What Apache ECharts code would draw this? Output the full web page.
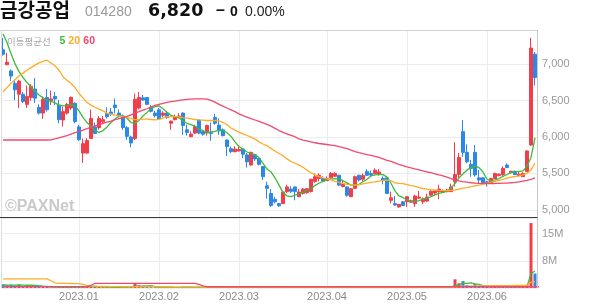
<!DOCTYPE html>
<html><head><meta charset="utf-8">
<script src="https://cdn.jsdelivr.net/npm/echarts@6.0.0/dist/echarts.min.js"></script>
<style>html,body{margin:0;padding:0;background:#fff}#c{width:594px;height:304px}</style>
</head><body><div id="c"></div>
<script>
// ---- trading days (KRX), 2022-12-05 .. 2023-06-20 ----
const startDate = '2022-12-05', endDate = '2023-06-20';
const holidays = ['2022-12-30','2023-01-23','2023-01-24','2023-03-01','2023-05-01','2023-05-05','2023-05-29','2023-06-06'];
const dates = [];
for (let d = new Date(startDate + 'T00:00:00Z'); d <= new Date(endDate + 'T00:00:00Z'); d.setUTCDate(d.getUTCDate() + 1)) {
  const s = d.toISOString().slice(0, 10), wd = d.getUTCDay();
  if (wd !== 0 && wd !== 6 && holidays.indexOf(s) < 0) dates.push(s);
}
// ---- prices (KRW) ----
const open = [7200,6995,6910,6740,6590,6590,6450,6545,6660,6410, 6330,6545,6500,6560,6440,6235,6330,6400,6465,6140, 5780,5780,5980,6140,6130,6210,6325,6345,6440,6330, 6290,6130,6000,5980,6400,6540,6545,6410,6330,6375, 6300,6330,6190,6240,6270,6330,6100,6005,6055,6235, 6075,6055,6060,6270,6165,6100,5960,5840,5800,5810, 5835,5755,5615,5755,5705,5595,5330,5225,5145,5085, 5085,5250,5285,5315,5180,5225,5235,5250,5390,5430, 5430,5400,5440,5460,5475,5320,5315,5180,5295,5475, 5420,5525,5500,5500,5490,5430,5440,5130,5085,5040, 5110,5110,5105,5085,5160,5110,5120,5200,5230,5250, 5240,5250,5250,5385,5485,6075,5790,5625,5790,5440, 5440,5385,5365,5430,5470,5485,5615,5510,5530,5470, 5455,5525,5890,7140];
const close = [7140,7030,6840,6650,6770,6490,6560,6700,6535,6330, 6520,6375,6525,6525,6240,6350,6450,6545,6215,5965, 5910,5955,6255,6050,6255,6240,6280,6325,6405,6290, 6130,6010,5920,6520,6545,6510,6450,6355,6295,6250, 6330,6270,6220,6280,6290,6160,6065,6040,6145,6055, 6040,6160,6050,6190,6085,6020,5870,5800,5835,5830, 5765,5660,5790,5700,5625,5455,5295,5060,5110,5055, 5245,5315,5255,5250,5245,5285,5290,5420,5455,5475, 5395,5430,5500,5500,5340,5350,5200,5290,5455,5410, 5470,5475,5480,5545,5520,5400,5225,5165,5065,5075, 5060,5180,5125,5190,5175,5150,5175,5255,5260,5285, 5265,5270,5315,5485,5720,5790,5660,5570,5480,5410, 5375,5365,5430,5500,5490,5570,5580,5530,5485,5490, 5500,5810,7225,6820];
const high = [7365,7156,6930,6790,6790,6620,6710,6730,6810,6450, 6560,6660,6640,6620,6510,6420,6470,6560,6480,6170, 5980,5985,6380,6200,6290,6290,6410,6400,6530,6380, 6310,6150,6020,6600,6620,6580,6550,6440,6360,6400, 6360,6360,6225,6310,6330,6340,6170,6080,6170,6240, 6100,6170,6200,6320,6260,6120,5965,5870,5875,5870, 5840,5780,5800,5770,5720,5600,5385,5285,5180,5095, 5250,5345,5325,5320,5290,5300,5300,5425,5500,5500, 5460,5460,5520,5515,5480,5400,5320,5300,5470,5480, 5500,5560,5540,5570,5560,5460,5460,5250,5190,5080, 5120,5185,5140,5205,5260,5170,5220,5270,5260,5345, 5280,5290,5360,5930,5780,6235,5900,5685,5890,5545, 5445,5400,5440,5510,5500,5600,5640,5540,5540,5520, 5515,5815,7365,7170];
const low = [7120,6990,6770,6510,6400,6470,6400,6500,6470,6310, 6250,6350,6440,6440,6190,6145,6310,6370,6190,5950, 5645,5775,5975,6040,6100,6180,6255,6290,6325,6270, 6100,5960,5860,5960,6380,6500,6440,6340,6270,6240, 6270,6250,6100,6230,6260,6030,6020,6000,6040,6040, 6020,6020,5950,6170,6030,6010,5740,5780,5790,5800, 5710,5580,5610,5670,5610,5410,5155,5040,5090,5040, 5080,5230,5230,5130,5175,5210,5220,5240,5370,5390, 5385,5395,5435,5455,5330,5310,5180,5175,5290,5390, 5390,5465,5450,5480,5470,5350,5220,5090,5060,5030, 5055,5040,5100,5040,5150,5080,5110,5200,5200,5145, 5230,5240,5245,5320,5440,5730,5640,5455,5455,5360, 5370,5320,5360,5425,5460,5455,5575,5500,5480,5460, 5450,5520,5880,6710];
// ---- moving averages as drawn ----
const ma5 = [7420,7300,7150,7010,6900,6820,6750,6690,6630,6580, 6540,6510,6490,6470,6440,6430,6434,6450,6430,6360, 6270,6200,6150,6090,6065,6090,6140,6200,6250,6290, 6290,6260,6200,6190,6230,6290,6340,6390,6420,6430, 6390,6340,6300,6280,6265,6220,6190,6170,6150,6110, 6090,6066,6070,6080,6095,6095,6060,6010,5935,5870, 5835,5795,5775,5760,5715,5640,5560,5520,5440,5340, 5240,5190,5180,5200,5220,5240,5265,5290,5335,5365, 5390,5410,5422,5430,5425,5400,5370,5340,5340,5350, 5385,5420,5465,5480,5486,5484,5450,5365,5260,5190, 5170,5135,5120,5117,5125,5145,5160,5180,5205,5225, 5240,5260,5300,5360,5440,5495,5545,5580,5605,5580, 5520,5420,5400,5410,5430,5460,5485,5515,5525,5525, 5535,5600,5720,5990];
const ma20 = [6620,6680,6740,6790,6840,6880,6920,6955,6990,7020, 7040,7058,7020,6980,6920,6830,6780,6740,6680,6600, 6540,6475,6440,6410,6385,6360,6330,6315,6302,6292, 6282,6270,6255,6240,6240,6248,6248,6242,6238,6245, 6262,6280,6282,6282,6278,6268,6260,6252,6242,6236, 6232,6228,6228,6230,6225,6200,6170,6125,6095,6068, 6045,6022,6000,5972,5935,5905,5880,5845,5805,5775, 5745,5700,5665,5640,5615,5585,5545,5510,5480,5455, 5440,5425,5410,5390,5376,5362,5350,5343,5340,5345, 5356,5368,5378,5385,5395,5405,5408,5400,5370,5362, 5360,5345,5332,5322,5305,5293,5285,5278,5272,5268, 5265,5265,5268,5270,5285,5298,5305,5318,5330,5340, 5352,5365,5380,5392,5405,5420,5435,5448,5458,5468, 5480,5500,5550,5640];
const ma60 = [5960,5960,5960,5960,5960,5960,5960,5960,5960,5960, 5960,5960,5962,5975,5990,6005,6020,6040,6060,6075, 6095,6115,6135,6155,6170,6190,6205,6220,6240,6255, 6270,6285,6305,6330,6350,6370,6390,6415,6435,6450, 6465,6478,6488,6496,6505,6512,6518,6522,6525,6525, 6525,6522,6505,6480,6450,6425,6400,6375,6350,6320, 6295,6275,6255,6235,6215,6195,6175,6150,6120,6090, 6065,6045,6025,6005,5975,5958,5948,5935,5922,5912, 5905,5898,5890,5882,5868,5855,5840,5820,5800,5785, 5772,5760,5748,5735,5720,5700,5680,5665,5645,5625, 5606,5590,5575,5562,5550,5535,5520,5510,5495,5480, 5468,5450,5430,5410,5398,5388,5380,5372,5368,5364, 5362,5362,5362,5362,5364,5366,5368,5372,5378,5385, 5395,5405,5420,5438];
// ---- volume (thousand shares) ----
const volK = [1000,750,900,700,950,600,700,800,650, 300,350,280,200,180,320,260,240,300,350, 400,450,380,600,300,260,200,220,180,260,200,280,320,350, 1200,700, 300,250,220,200,240,180,200,220,150,160,300,200,180,220,250,180,200,260,220,250,200,350,200,160, 150,220,300,260,180,200,350,400,450,250,220,300,260,200,220,180,200,170,300,260,220,180, 160,200,180,240,200,260,220,300,220,200,230,200,240,210,220,300,280,250,200,210, 220,180,260,200,180,200,220,190,260,180,170,260, 2400,1300,1900,800,600,1100,500,400, 300,350,400,300,450,350,300,280,250,300,900, 17900,4000];
const vol5K = [850,830,820,800,840,780,760,780,740, 620,520,430,340,260,270,260,250,270,290, 320,350,380,430,420,400,340,260,230,210,210,230,250,290, 500,530,560,590,620,350,240,230, 210,200,190,190,210,200,210,230,230,220,210,220,230,240,230,250,240,230, 220,200,200,230,230,230,260,300,330,350,330,290,260,250,240,220,210,200,210,220,230,230, 220,210,200,190,200,210,220,240,240,240,240,230,220,220,230,240,250,260,250,240, 230,220,210,210,210,200,200,210,210,210,210,220, 650,900,1280,1300,1400,1140,980,680, 560,460,400,360,360,370,360,340,330,310,420, 3950,4690];
const vol20K = [2500,2500,2500,2500,2500,2500,2500,2500,2500,2500,2500,2500, 2000,1400,1300,1280,1260,1240,1220,1200, 1000,750,550,480,460,440,420,400,380,360,350,340,330, 380,400,410,420,420,400,330,300,280,270,260,250,250,240,240,230,230,230,220,220, 240,240,240,240,240,240,240,240,240,240,240,240,240,240,240,240,240,240,240,240,240,240,240,240, 240,240,240,240,240,240,240,240,240,240,240,240,240,240,240,240,240,240,240,240,240,240,240,240, 220,220,220,220,220,220,220,220,220,220,220,220, 330,390,480,510,530,580,600,610, 620,630,640,650,660,670,680,690,700,710,740, 1600,1780];
const vol60K = [400,400,400,400,400,400,400,400,400,400,400,400,400,400,400,400,400,400,400,400,400,400,700, 1300,1300,1300,1300,1300,1300,1300,1300,1300,1300,1300,1300,1300,1300,1300,1300,1300,1300,1300,1300,1300,1300,1300,1300,1300,1300, 1000,600, 350,350,350,350,350,350,350,350,350,350,350,350,350,350,350,350,350,350,350,350, 350,350,350,350,350,350,350,350,350,350,350,350,350,350,350,350,350,350,350,350, 350,350,350,350,350,350,350,350,350,350,350,350,350,350,350,350,350,350,350,350, 350,350,350,350,350,350,350,350,350,350,350,350,350,350,350,350,350,350,350,350, 350,350,350,350,350,350,350,350,350,350,350, 640,700];
// ---- header / labels ----
const stockName = '금강공업', stockCode = '014280', lastPrice = '6,820', changeMark = '–', changeVal = '0', changePct = '0.00%';
const maLabel = '이동평균선', maPeriods = ['5', '20', '60'];

const UP = '#f23e4c', DOWN = '#2b88e8';
const C5 = '#3cbb3c', C20 = '#ffab25', C60 = '#f2486e';

const monthStart = dates.map((d, i) => i > 0 && d.slice(0, 7) !== dates[i - 1].slice(0, 7));
const isMonthStart = (i) => monthStart[i];
const kData = open.map((o, i) => [o, close[i], low[i], high[i]]);
const volData = volK.map((v, i) => ({ value: v * 1000, itemStyle: { color: close[i] >= open[i] ? UP : DOWN } }));
const fmtNum = v => String(Math.round(v)).replace(/\B(?=(\d{3})+(?!\d))/g, ',');

const chart = echarts.init(document.getElementById('c'), null, { renderer: 'canvas' });
const lineS = (name, data, color, x, y) => ({ name, type: 'line', data, xAxisIndex: x, yAxisIndex: y, showSymbol: false, symbol: 'none',
  lineStyle: { color, width: 1.3 }, z: 5, silent: true });
chart.setOption({
  animation: false,
  grid: [
    { left: 1, right: 57, top: 30, height: 187.5 },
    { left: 1, right: 57, top: 218, height: 70 }
  ],
  xAxis: [
    { type: 'category', gridIndex: 0, data: dates, boundaryGap: true,
      axisLine: { show: false }, axisTick: { show: false }, axisLabel: { show: false },
      splitLine: { show: true, interval: isMonthStart, alignWithLabel: true, lineStyle: { color: '#ececec' } } },
    { type: 'category', gridIndex: 1, data: dates, boundaryGap: true,
      axisLine: { show: false }, axisTick: { show: false, alignWithLabel: true, interval: isMonthStart },
      axisLabel: { show: true, interval: isMonthStart, formatter: v => v.slice(0, 4) + '.' + v.slice(5, 7),
        color: '#8a8a8a', fontSize: 11, fontFamily: 'Liberation Sans', margin: 3 },
      splitLine: { show: true, interval: isMonthStart, alignWithLabel: true, lineStyle: { color: '#ececec' } } }
  ],
  yAxis: [
    { type: 'value', gridIndex: 0, position: 'right', min: 4894, max: 7473, scale: true,
      axisLine: { show: false }, axisTick: { show: false },
      axisLabel: { showMinLabel: false, showMaxLabel: false, formatter: fmtNum, color: '#999', fontSize: 11, fontFamily: 'Liberation Sans', margin: 5 },
      splitLine: { lineStyle: { color: '#ececec' } } },
    { type: 'value', gridIndex: 1, position: 'right', min: 0, max: 19300000, interval: 7500000,
      axisLine: { show: false }, axisTick: { show: false },
      axisLabel: { showMinLabel: false, showMaxLabel: false, formatter: v => Math.round(v / 1e6) + 'M', color: '#999', fontSize: 11, fontFamily: 'Liberation Sans', margin: 5 },
      splitLine: { lineStyle: { color: '#ececec' } } }
  ],
  series: [
    { type: 'candlestick', data: kData, xAxisIndex: 0, yAxisIndex: 0, barWidth: 3, z: 3, silent: true,
      itemStyle: { color: UP, color0: DOWN, borderColor: UP, borderColor0: DOWN, borderWidth: 1 } },
    lineS('ma5', ma5, C5, 0, 0), lineS('ma20', ma20, C20, 0, 0), lineS('ma60', ma60, C60, 0, 0),
    { type: 'bar', data: volData, xAxisIndex: 1, yAxisIndex: 1, barWidth: 3, z: 3, silent: true },
    lineS('v5', vol5K.map(v => v * 1000), C5, 1, 1), lineS('v20', vol20K.map(v => v * 1000), C20, 1, 1), lineS('v60', vol60K.map(v => v * 1000), C60, 1, 1)
  ],
  graphic: [
    { type: 'line', shape: { x1: 0, y1: 30.5, x2: 537.5, y2: 30.5 }, style: { stroke: '#d2d2d2', lineWidth: 1 }, z: 10 },
    { type: 'line', shape: { x1: 537.5, y1: 30, x2: 537.5, y2: 288 }, style: { stroke: '#c8c8c8', lineWidth: 1 }, z: 10 },
    { type: 'line', shape: { x1: 1.5, y1: 30, x2: 1.5, y2: 288 }, style: { stroke: '#dcdcdc', lineWidth: 1 }, z: 10 },
    { type: 'line', shape: { x1: 0, y1: 217.5, x2: 537.5, y2: 217.5 }, style: { stroke: '#3a3a3a', lineWidth: 1 }, z: 10 },
    { type: 'text', x: 0, y: 10, style: { text: stockName, font: 'bold 19px "Noto Sans CJK KR"', fill: '#111', verticalAlign: 'middle' } },
    { type: 'text', x: 85, y: 12, style: { text: stockCode, font: '14px "Liberation Sans"', fill: '#9a9a9a', verticalAlign: 'middle' } },
    { type: 'text', x: 148, y: 11, style: { text: lastPrice, font: 'bold 17.5px "DejaVu Sans"', fill: '#111', verticalAlign: 'middle' } },
    { type: 'text', x: 216, y: 11, style: { text: changeMark, font: 'bold 16px "Liberation Sans"', fill: '#111', verticalAlign: 'middle' } },
    { type: 'text', x: 230, y: 12, style: { text: changeVal, font: 'bold 14px "Liberation Sans"', fill: '#111', verticalAlign: 'middle' } },
    { type: 'text', x: 245, y: 12.5, style: { text: changePct, font: '14px "Liberation Sans"', fill: '#222', verticalAlign: 'middle' } },
    { type: 'text', x: 7, y: 41, z: 12, style: { text: maLabel, font: '9.5px "Noto Sans CJK KR"', fill: '#a8a8a8', verticalAlign: 'middle' } },
    { type: 'text', x: 59.5, y: 41, z: 12, style: { text: maPeriods[0], font: 'bold 10.5px "Liberation Sans"', fill: C5, verticalAlign: 'middle' } },
    { type: 'text', x: 68.3, y: 41, z: 12, style: { text: maPeriods[1], font: 'bold 10.5px "Liberation Sans"', fill: C20, verticalAlign: 'middle' } },
    { type: 'text', x: 83.3, y: 41, z: 12, style: { text: maPeriods[2], font: 'bold 10.5px "Liberation Sans"', fill: C60, verticalAlign: 'middle' } },
    { type: 'text', x: 5, y: 206.5, z: 1, style: { text: '©PAXNet', font: 'bold 16px "Liberation Sans"', fill: '#cacaca', verticalAlign: 'middle' } }
  ]
});
</script></body></html>
